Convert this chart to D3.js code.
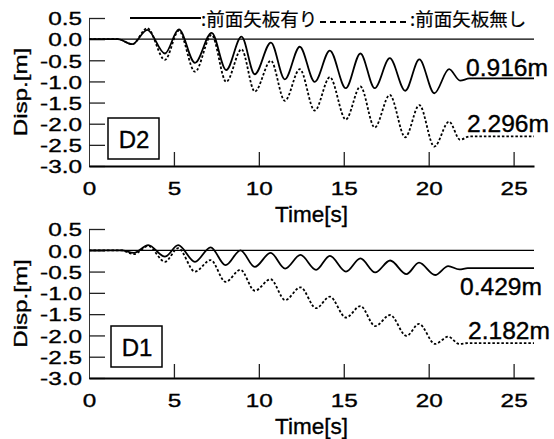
<!DOCTYPE html>
<html>
<head>
<meta charset="utf-8">
<script src="https://cdn.jsdelivr.net/npm/d3@7"></script>
<style>
    body { margin: 0; background: #fff; }
    svg text { font-family: "Liberation Sans", Arial, sans-serif; fill: #000; stroke: #000; stroke-width: 0.35px; }
</style>
</head>
<body>
<script>
// upper panel (D2), peaks and troughs
const timeD2 = [0, 1.7, 2.55, 3.43, 4.47, 5.29, 6.24, 7.22, 8.08, 8.98, 9.76, 10.71, 11.53, 12.41, 13.29, 14.18, 15.12, 15.98, 16.82, 17.71, 18.62, 19.45, 20.33, 21.2, 21.85, 22.4, 26.2];
const withSheetD2 = [0, 0, -0.12, 0.22, -0.34, 0.23, -0.56, 0.15, -0.73, 0.06, -0.83, -0.08, -0.95, -0.18, -1.01, -0.27, -1.16, -0.34, -1.16, -0.45, -1.22, -0.48, -1.28, -0.71, -0.98, -0.93, -0.93];
const withoutSheetD2 = [0, 0, -0.12, 0.26, -0.49, 0.2, -0.77, 0.1, -1.01, -0.24, -1.24, -0.51, -1.46, -0.71, -1.69, -0.9, -1.9, -1.12, -2.09, -1.32, -2.32, -1.56, -2.54, -1.95, -2.38, -2.3, -2.3];

// lower panel (D1)
const timeD1 = [0, 1.9, 2.65, 3.49, 4.47, 5.25, 6.24, 7.16, 8.04, 8.92, 9.76, 10.69, 11.55, 12.45, 13.37, 14.18, 15.13, 15.98, 16.85, 17.73, 18.69, 19.43, 20.38, 21.15, 21.8, 22.3, 26.2];
const withSheetD1 = [0, 0, -0.06, 0.12, -0.15, 0.12, -0.27, 0.07, -0.35, 0.0, -0.39, -0.06, -0.43, -0.11, -0.46, -0.13, -0.5, -0.19, -0.52, -0.24, -0.56, -0.29, -0.58, -0.37, -0.45, -0.42, -0.42];
const withoutSheetD1 = [0, 0, -0.09, 0.1, -0.27, 0.05, -0.5, -0.23, -0.74, -0.46, -0.95, -0.68, -1.17, -0.87, -1.36, -1.09, -1.58, -1.31, -1.78, -1.52, -2.01, -1.73, -2.2, -2.03, -2.2, -2.18, -2.18];

const xTicks = [0, 5, 10, 15, 20, 25];
const yTicks = [0.5, 0.0, -0.5, -1.0, -1.5, -2.0, -2.5, -3.0];
const legendLabels = [":前面矢板有り", ":前面矢板無し"];
const finalLabelsD2 = ["0.916m", "2.296m"];
const finalLabelsD1 = ["0.429m", "2.182m"];

const width = 554, height = 439;
const svg = d3.select("body").append("svg")
    .attr("width", width)
    .attr("height", height);

const x = d3.scaleLinear().domain([0, 26.2]).range([89, 534]);
const fmt = d => d3.format(".1f")(d).replace("\u2212", "-");

const line = y => d3.line()
    .x(d => x(d[0]))
    .y(d => y(d[1]))
    .curve(d3.curveMonotoneX);

function drawPanel(p) {
    let y = d3.scaleLinear().domain([-3, 0.5]).range([p.bottom, p.top]);
    let g = svg.append("g");

    // left axis, ticks pointing inwards
    let ya = g.append("g")
        .attr("transform", "translate(" + x(0) + ",0)")
        .call(d3.axisLeft(y).tickValues(yTicks).tickFormat(fmt).tickSize(-16).tickSizeOuter(0).tickPadding(7));
    ya.select(".domain").attr("stroke", "#333").attr("stroke-width", 1);
    ya.selectAll(".tick line").attr("stroke", "#222").attr("stroke-width", 1.3);
    ya.selectAll(".tick text")
        .attr("font-size", 19)
        .attr("font-family", "Liberation Sans, Arial, sans-serif")
        .attr("x", -7 / 1.28)
        .attr("dy", "0.36em")
        .attr("transform", "scale(1.28,1)");

    // bottom axis, ticks pointing up
    let xa = g.append("g")
        .attr("transform", "translate(0," + p.bottom + ")")
        .call(d3.axisBottom(x).tickValues(xTicks).tickSize(-14).tickSizeOuter(0));
    xa.select(".domain").attr("stroke", "#000").attr("stroke-width", 2);
    xa.selectAll(".tick line").attr("stroke", "#222").attr("stroke-width", 1.3)
        .filter(d => d === 0).remove();
    xa.selectAll(".tick text")
        .attr("font-size", 19)
        .attr("font-family", "Liberation Sans, Arial, sans-serif")
        .attr("y", 29).attr("dy", 0)
        .attr("transform", "scale(1.28,1)");

    // zero reference line
    g.append("line")
        .attr("x1", x(0)).attr("x2", x(26.2))
        .attr("y1", y(0)).attr("y2", y(0))
        .attr("stroke", "#000").attr("stroke-width", 1.2);

    g.append("path")
        .datum(d3.zip(p.time, p.without))
        .attr("fill", "none")
        .attr("stroke", "#000")
        .attr("stroke-width", 1.8)
        .attr("stroke-dasharray", "2.5,2")
        .attr("d", line(y));

    g.append("path")
        .datum(d3.zip(p.time, p.with))
        .attr("fill", "none")
        .attr("stroke", "#000")
        .attr("stroke-width", 1.8)
        .attr("d", line(y));

    // final displacement labels
    let last = p.time.length - 1;
    p.finals.forEach(function(label, i) {
        let v = i === 0 ? p.with[last] : p.without[last];
        g.append("text")
            .attr("transform", "translate(" + p.labelX[i] + "," + (y(v) + p.labelDy[i]) + ") scale(1.07,1)")
            .attr("font-size", 23)
            .text(label);
    });

    // panel name box
    g.append("rect")
        .attr("x", p.boxX).attr("y", p.boxY)
        .attr("width", 51).attr("height", 41)
        .attr("fill", "#fff").attr("stroke", "#000").attr("stroke-width", 1.5);
    g.append("text")
        .attr("x", p.boxX + 26).attr("y", p.boxY + 30)
        .attr("text-anchor", "middle")
        .attr("font-size", 24)
        .text(p.name);

    g.append("text")
        .attr("transform", "translate(27," + ((p.top + p.bottom) / 2) + ") rotate(-90) scale(1.27,1)")
        .attr("text-anchor", "middle")
        .attr("font-size", 19)
        .text("Disp.[m]");

    g.append("text")
        .attr("x", (x(0) + x(26.2)) / 2)
        .attr("y", p.bottom + 56)
        .attr("text-anchor", "middle")
        .attr("font-size", 22.5)
        .text("Time[s]");
}

drawPanel({
    name: "D2", top: 18, bottom: 166,
    time: timeD2, with: withSheetD2, without: withoutSheetD2,
    finals: finalLabelsD2, labelX: [466, 467], labelDy: [-2, -4.5],
    boxX: 108, boxY: 118
});

drawPanel({
    name: "D1", top: 229, bottom: 378,
    time: timeD1, with: withSheetD1, without: withoutSheetD1,
    finals: finalLabelsD1, labelX: [460, 468], labelDy: [27, -4],
    boxX: 111, boxY: 326
});

// legend
let legend = svg.append("g");
legend.append("line")
    .attr("x1", 130).attr("x2", 201).attr("y1", 18).attr("y2", 18)
    .attr("stroke", "#000").attr("stroke-width", 1.8);
legend.append("line")
    .attr("x1", 320).attr("x2", 410).attr("y1", 22).attr("y2", 22)
    .attr("stroke", "#000").attr("stroke-width", 1.8)
    .attr("stroke-dasharray", "6,4");
legend.selectAll("text.lg")
    .data(legendLabels)
    .enter().append("text")
    .attr("class", "lg")
    .attr("x", (d, i) => i === 0 ? 201 : 410)
    .attr("y", 26)
    .attr("font-size", 18.5)
    .style("font-family", "'Noto Sans CJK JP', sans-serif")
    .style("stroke-width", "0.2px")
    .text(d => d);
</script>
</body>
</html>
